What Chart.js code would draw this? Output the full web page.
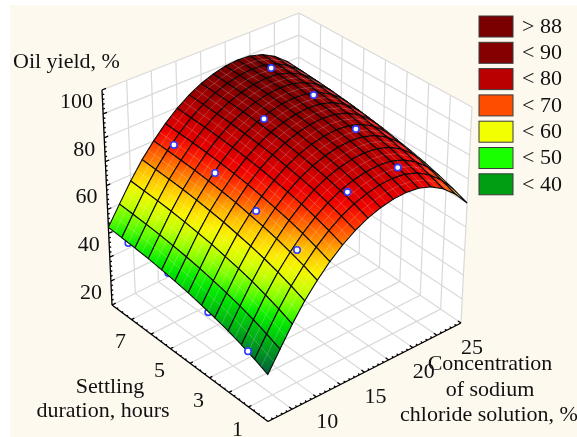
<!DOCTYPE html>
<html>
<head>
<meta charset="utf-8">
<title>Oil yield surface</title>
<script src="https://cdn.jsdelivr.net/npm/chart.js@4/dist/chart.umd.js"></script>
<style>
html, body { margin: 0; padding: 0; background: #fff; }
#paper { position: absolute; left: 10px; top: 5px; width: 567px; height: 432px; background: #fdf9ef; }
</style>
</head>
<body>
<div id="paper"></div>
<canvas id="surfaceChart" width="577" height="437" style="position:absolute;left:0;top:0"></canvas>
<script>
// mesh positions of the surface, hours across the rows and concentration across the columns
var meshHours = [8, 7.33, 6.67, 6, 5.33, 4.67, 4, 3.33, 2.67, 2, 1.33, 0.67, 0];
var meshConc = [5, 6.25, 7.5, 8.75, 10, 11.25, 12.5, 13.75, 15, 16.25, 17.5, 18.75, 20, 21.25, 22.5, 23.75, 25];

// oil yield, one row per value of meshHours
var meshYield = [
  [42.5,50.0,57.5,64.3,70.1,75.3,79.7,83.3,86.1,88.1,89.4,89.9,89.5,87.9,84.9,80.5,74.5],
  [42.0,49.5,57.0,63.8,69.6,74.8,79.2,82.8,85.6,87.6,88.9,89.4,89.0,87.4,84.4,80.0,74.0],
  [41.5,49.0,56.5,63.3,69.1,74.3,78.7,82.3,85.1,87.1,88.4,88.9,88.5,86.9,83.9,79.5,73.5],
  [40.9,48.4,55.9,62.7,68.5,73.7,78.1,81.7,84.5,86.5,87.8,88.3,87.9,86.3,83.3,78.9,72.9],
  [40.1,47.6,55.1,61.9,67.7,72.9,77.3,80.9,83.7,85.7,87.0,87.5,87.1,85.5,82.5,78.1,72.1],
  [39.2,46.7,54.2,61.0,66.8,72.0,76.4,80.0,82.8,84.8,86.1,86.6,86.2,84.6,81.6,77.2,71.2],
  [38.2,45.7,53.2,60.0,65.8,71.0,75.4,79.0,81.8,83.8,85.1,85.6,85.2,83.6,80.6,76.2,70.2],
  [36.9,44.4,51.9,58.7,64.5,69.7,74.1,77.7,80.5,82.5,83.8,84.3,83.9,82.3,79.3,74.9,68.9],
  [35.6,43.1,50.6,57.4,63.2,68.4,72.8,76.4,79.2,81.2,82.5,83.0,82.6,81.0,78.0,73.6,67.6],
  [34.1,41.6,49.1,55.9,61.7,66.9,71.3,74.9,77.7,79.7,81.0,81.5,81.1,79.5,76.5,72.1,66.1],
  [32.3,39.8,47.3,54.1,59.9,65.1,69.5,73.1,75.9,77.9,79.2,79.7,79.3,77.7,74.7,70.3,64.3],
  [30.3,37.8,45.3,52.1,57.9,63.1,67.5,71.1,73.9,75.9,77.2,77.7,77.3,75.7,72.7,68.3,62.3],
  [28.0,35.5,43.0,49.8,55.6,60.8,65.2,68.8,71.6,73.6,74.9,75.4,75.0,73.4,70.4,66.0,60.0]
];

// measured points
var pointHours = [7, 5, 3, 1];
var hiddenHours = [7, 5, 3];
var hiddenYield = [41.7, 40.6, 36.0];   // c = 5, mostly behind the surface
var cornerPoint = { hours: 1, conc: 5, yieldLow: 31.6, stemTop: 35.5 };
var conc10Yield = [73.8, 72.7, 67.6, 62.4];
var conc15Hours = [5, 1];
var conc15Yield = [86.7, 77.0];
var conc20Yield = [89.5, 88.3, 84.2, 78.4];

var yieldTicks = [100, 80, 60, 40, 20];
var hourTicks = [7, 5, 3, 1];
var concTicks = [10, 15, 20, 25];

var legendLabels = ['> 88', '< 90', '< 80', '< 70', '< 60', '< 50', '< 40'];
var legendColors = ['#7a0000', '#850000', '#bb0000', '#ff4d00', '#f2ff00', '#19ff00', '#009e12'];

var colorLevels = [28, 35, 42, 47, 52, 57, 62, 66, 70, 74, 80, 85, 89];
var colorValues = [[0,92,62],[0,165,25],[0,235,0],[110,255,0],[200,255,0],[250,245,0],[255,190,0],[255,120,0],[255,50,0],[235,0,0],[190,0,0],[150,0,0],[120,0,0]];

var hourMin = 0, hourMax = 8, concMin = 5, concMax = 25, yieldMin = 10, yieldMax = 100;

// the eight corners of the box as seen in the picture (u = hours, v = concentration, t = yield)
var corners = {
  u0v0t0: [112, 305], u1v0t0: [268, 421.5], u1v1t0: [461, 323], u0v1t0: [298, 212],
  u0v0t1: [102, 90], u1v0t1: [267, 187], u1v1t1: [472, 107], u0v1t1: [299, 13]
};

function mix(a, b, f) { return a + (b - a) * f; }

function project(h, c, z) {
  var u = (hourMax - h) / (hourMax - hourMin);
  var v = (c - concMin) / (concMax - concMin);
  var t = (z - yieldMin) / (yieldMax - yieldMin);
  var p = [0, 1].map(function(i) {
    var floorNear = mix(corners.u0v0t0[i], corners.u1v0t0[i], u);
    var floorFar = mix(corners.u0v1t0[i], corners.u1v1t0[i], u);
    var topNear = mix(corners.u0v0t1[i], corners.u1v0t1[i], u);
    var topFar = mix(corners.u0v1t1[i], corners.u1v1t1[i], u);
    return mix(mix(floorNear, floorFar, v), mix(topNear, topFar, v), t);
  });
  return { x: p[0], y: p[1] };
}

function yieldColor(z) {
  var n = colorLevels.length;
  if (z <= colorLevels[0]) return 'rgb(' + colorValues[0].join(',') + ')';
  for (var i = 1; i < n; i++) {
    if (z <= colorLevels[i]) {
      var f = (z - colorLevels[i - 1]) / (colorLevels[i] - colorLevels[i - 1]);
      var a = colorValues[i - 1], b = colorValues[i];
      return 'rgb(' + Math.round(mix(a[0], b[0], f)) + ',' + Math.round(mix(a[1], b[1], f)) + ',' + Math.round(mix(a[2], b[2], f)) + ')';
    }
  }
  return 'rgb(' + colorValues[n - 1].join(',') + ')';
}

function addSegment(list, p, q) {
  list.push(p, q, { x: null, y: null });
}

function lineDataset(data, color, width) {
  return { data: data, showLine: true, fill: false, borderColor: color, borderWidth: width, pointRadius: 0 };
}

function wallDataset(data) {
  return { data: data, showLine: true, fill: 'shape', backgroundColor: '#ffffff', borderWidth: 0, pointRadius: 0 };
}

function pointDataset(data) {
  return {
    data: data, showLine: false, pointRadius: 3.2, borderWidth: 1.6,
    pointBackgroundColor: '#ffffff', pointBorderColor: '#2f3cff', pointBorderWidth: 1.6
  };
}

// every cell is filled with a gradient from its lowest to its highest corner
function cellFill(corner, yields) {
  return function(context) {
    var chart = context.chart;
    var lo = 0, hi = 0;
    yields.forEach(function(z, i) {
      if (z < yields[lo]) lo = i;
      if (z > yields[hi]) hi = i;
    });
    var xs = chart.scales.x, ys = chart.scales.y;
    var x0 = xs.getPixelForValue(corner[lo].x), y0 = ys.getPixelForValue(corner[lo].y);
    var x1 = xs.getPixelForValue(corner[hi].x), y1 = ys.getPixelForValue(corner[hi].y);
    // the options get resolved once before the scales are laid out
    if (!isFinite(x0 + y0 + x1 + y1)) return yieldColor(yields[lo]);
    var g = chart.ctx.createLinearGradient(x0, y0, x1, y1);
    for (var i = 0; i <= 4; i++) {
      g.addColorStop(i / 4, yieldColor(mix(yields[lo], yields[hi], i / 4)));
    }
    return g;
  };
}

function middle(p, q) {
  return { x: (p.x + q.x) / 2, y: (p.y + q.y) / 2 };
}

function buildDatasets() {
  var sets = [];  // back to front, reversed at the end

  sets.push(wallDataset([project(hourMax, concMin, yieldMin), project(hourMax, concMax, yieldMin), project(hourMax, concMax, yieldMax), project(hourMax, concMin, yieldMax)]));
  sets.push(wallDataset([project(hourMax, concMax, yieldMin), project(hourMin, concMax, yieldMin), project(hourMin, concMax, yieldMax), project(hourMax, concMax, yieldMax)]));
  sets.push(wallDataset([project(hourMax, concMin, yieldMin), project(hourMin, concMin, yieldMin), project(hourMin, concMax, yieldMin), project(hourMax, concMax, yieldMin)]));

  var grid = [];
  var z, h, c;
  for (z = yieldMin; z <= yieldMax; z += 10) {
    addSegment(grid, project(hourMax, concMin, z), project(hourMax, concMax, z));
    addSegment(grid, project(hourMax, concMax, z), project(hourMin, concMax, z));
  }
  for (c = concMin; c <= concMax; c += 2.5) {
    addSegment(grid, project(hourMax, c, yieldMin), project(hourMax, c, yieldMax));
    addSegment(grid, project(hourMax, c, yieldMin), project(hourMin, c, yieldMin));
  }
  for (h = hourMin; h <= hourMax; h += 1) {
    addSegment(grid, project(h, concMax, yieldMin), project(h, concMax, yieldMax));
    addSegment(grid, project(h, concMin, yieldMin), project(h, concMax, yieldMin));
  }
  sets.push(lineDataset(grid, '#d9d9d9', 1.2));

  var axes = [];
  addSegment(axes, project(hourMax, concMin, yieldMax), project(hourMax, concMin, yieldMin));
  addSegment(axes, project(hourMax, concMin, yieldMin), project(hourMin, concMin, yieldMin));
  addSegment(axes, project(hourMin, concMin, yieldMin), project(hourMin, concMax, yieldMin));
  for (z = yieldMin; z <= yieldMax; z += 2) {
    addSegment(axes, project(hourMax, concMin, z), project(hourMax, concMin + (z % 10 === 0 ? 0.4 : 0.2), z));
  }
  for (h = hourMin; h <= hourMax; h += 0.25) {
    addSegment(axes, project(h, concMin, yieldMin), project(h, concMin + (h % 1 === 0 ? 0.3 : 0.15), yieldMin));
  }
  for (c = concMin; c <= concMax; c += 0.5) {
    addSegment(axes, project(hourMin, c, yieldMin), project(hourMin + (c % 2.5 === 0 ? 0.15 : 0.08), c, yieldMin));
  }
  sets.push(lineDataset(axes, '#000000', 1.3));

  // points mostly hidden by the surface go in first
  sets.push(pointDataset(hiddenHours.map(function(p, i) { return project(p, concMin, hiddenYield[i]); })));

  // cells from the far corner to the near one
  for (var j = 0; j < meshHours.length - 1; j++) {
    for (var k = meshConc.length - 2; k >= 0; k--) {
      var corner = [
        project(meshHours[j], meshConc[k], meshYield[j][k]),
        project(meshHours[j], meshConc[k + 1], meshYield[j][k + 1]),
        project(meshHours[j + 1], meshConc[k + 1], meshYield[j + 1][k + 1]),
        project(meshHours[j + 1], meshConc[k], meshYield[j + 1][k])
      ];
      var yields = [meshYield[j][k], meshYield[j][k + 1], meshYield[j + 1][k + 1], meshYield[j + 1][k]];
      sets.push({
        data: corner.concat([corner[0]]),
        showLine: true,
        fill: 'shape',
        backgroundColor: cellFill(corner, yields),
        borderColor: '#0a0a0a',
        borderWidth: 1.1,
        pointRadius: 0
      });
      // the faint facet seams across each cell
      var seams = [];
      addSegment(seams, middle(corner[0], corner[1]), middle(corner[3], corner[2]));
      addSegment(seams, middle(corner[0], corner[3]), middle(corner[1], corner[2]));
      sets.push(lineDataset(seams, 'rgba(255,255,255,0.2)', 1));
    }
  }

  var stem = lineDataset([
    project(cornerPoint.hours, cornerPoint.conc, cornerPoint.yieldLow),
    project(cornerPoint.hours, cornerPoint.conc, cornerPoint.stemTop)
  ], '#2f3cff', 1);
  stem.borderDash = [1, 1];
  sets.push(stem);
  sets.push(pointDataset([project(cornerPoint.hours, cornerPoint.conc, cornerPoint.yieldLow)]));
  sets.push(pointDataset(pointHours.map(function(p, i) { return project(p, 10, conc10Yield[i]); })));
  sets.push(pointDataset(conc15Hours.map(function(p, i) { return project(p, 15, conc15Yield[i]); })));
  sets.push(pointDataset(pointHours.map(function(p, i) { return project(p, 20, conc20Yield[i]); })));

  return sets.reverse();
}

var textPlugin = {
  id: 'textPlugin',
  afterDraw: function(chart) {
    var ctx = chart.ctx;
    var xs = chart.scales.x, ys = chart.scales.y;
    ctx.save();
    ctx.fillStyle = '#111';
    ctx.font = '22px "Liberation Serif"';
    ctx.textBaseline = 'middle';

    ctx.textAlign = 'right';
    yieldTicks.forEach(function(t) {
      var p = project(hourMax, concMin, t);
      ctx.fillText(String(t), xs.getPixelForValue(p.x) - 9, ys.getPixelForValue(p.y) + 12);
    });
    ctx.textAlign = 'center';
    hourTicks.forEach(function(t) {
      var p = project(t, concMin, yieldMin);
      ctx.fillText(String(t), xs.getPixelForValue(p.x) - 11, ys.getPixelForValue(p.y) + 23);
    });
    concTicks.forEach(function(t) {
      var p = project(hourMin, t, yieldMin);
      ctx.fillText(String(t), xs.getPixelForValue(p.x) + 11, ys.getPixelForValue(p.y) + 25);
    });

    ctx.fillText('Settling', 110, 387);
    ctx.fillText('duration, hours', 103, 411);
    ctx.fillText('Concentration', 490, 364);
    ctx.fillText('of sodium', 490, 390);
    ctx.fillText('chloride solution, %', 489, 415);
    ctx.textAlign = 'left';
    ctx.fillText('Oil yield, %', 13, 62);

    legendLabels.forEach(function(label, i) {
      var top = 16 + i * 26.3;
      ctx.fillStyle = legendColors[i];
      ctx.fillRect(479, top, 34, 21);
      ctx.strokeStyle = '#3a3a3a';
      ctx.lineWidth = 1;
      ctx.strokeRect(479, top, 34, 21);
      ctx.fillStyle = '#111';
      ctx.fillText(label, 522, top + 11);
    });
    ctx.restore();
  }
};

document.addEventListener('DOMContentLoaded', function() {
  var ctx = document.getElementById('surfaceChart').getContext('2d');
  new Chart(ctx, {
    type: 'scatter',
    data: { datasets: buildDatasets() },
    options: {
      responsive: false,
      animation: false,
      events: [],
      layout: { padding: 0, autoPadding: false },
      plugins: { legend: { display: false }, tooltip: { enabled: false } },
      scales: {
        x: { type: 'linear', display: false, min: 0, max: 577 },
        y: { type: 'linear', display: false, min: 0, max: 437, reverse: true }
      }
    },
    plugins: [textPlugin]
  });
});
</script>
</body>
</html>
